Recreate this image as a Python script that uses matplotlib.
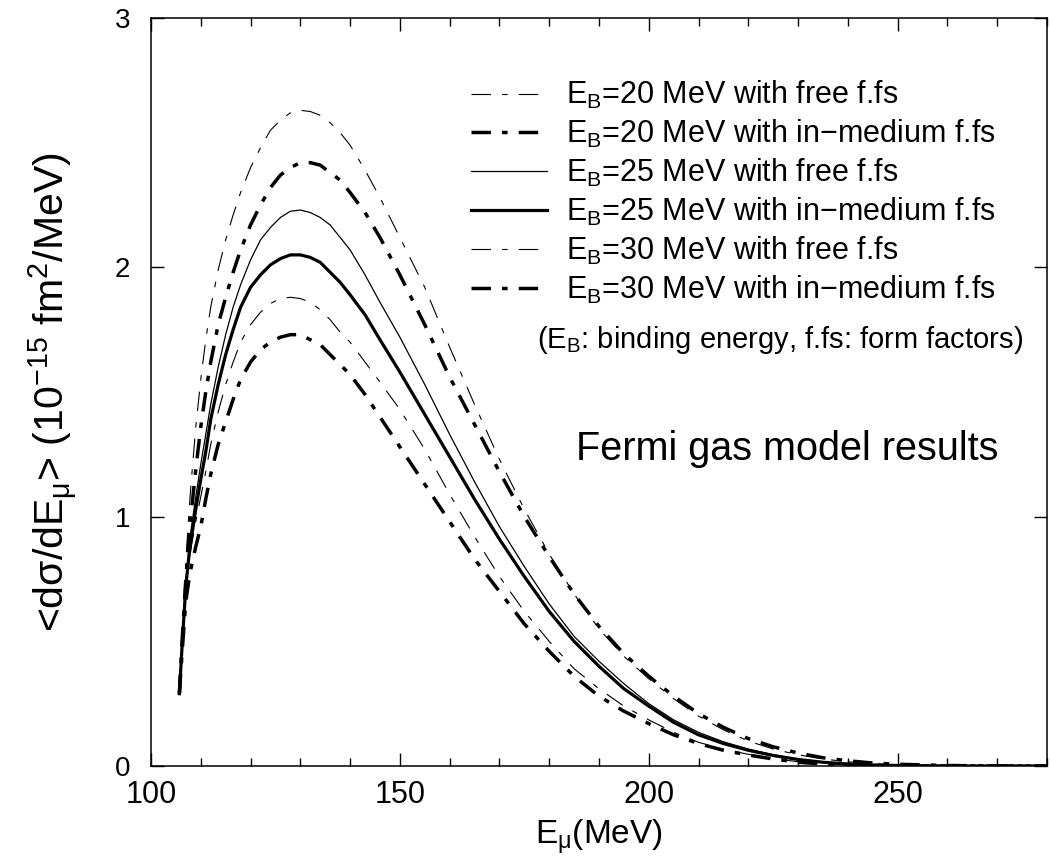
import matplotlib
matplotlib.use("Agg")
import matplotlib.pyplot as plt
from matplotlib.ticker import MultipleLocator

plt.rcParams['font.family'] = ['Liberation Sans', 'DejaVu Sans']
plt.rcParams['mathtext.fontset'] = 'custom'
plt.rcParams['mathtext.rm'] = 'Liberation Sans'
plt.rcParams['mathtext.it'] = 'Liberation Sans:italic'
plt.rcParams['mathtext.bf'] = 'Liberation Sans:bold'
plt.rcParams['lines.scale_dashes'] = False

# muon energy grid (MeV)
e_mu = [105.7, 106.3, 107, 107.5, 108, 109, 110, 111, 112, 113.5, 115, 116.5, 118,
        120, 122, 124, 126, 128, 130, 132, 134, 136, 138, 140, 143, 146, 150, 155,
        160, 165, 170, 175, 180, 185, 190, 195, 200, 205, 210, 215, 220, 225, 230,
        235, 240, 245, 250, 260, 270, 280]

# <dsigma/dE_mu> in 10^-15 fm^2/MeV
eb20_free = [0.29, 0.55, 0.82, 0.98, 1.12, 1.36, 1.55, 1.71, 1.84, 1.99, 2.11, 2.21, 2.30,
             2.40, 2.48, 2.55, 2.59, 2.62, 2.63, 2.625, 2.61, 2.58, 2.54, 2.49, 2.39, 2.28,
             2.12, 1.92, 1.68, 1.45, 1.23, 1.03, 0.85, 0.69, 0.55, 0.44, 0.35, 0.27, 0.20,
             0.145, 0.10, 0.068, 0.045, 0.028, 0.017, 0.010, 0.005, 0.001, 0.0, 0.0]
eb20_med = [0.29, 0.52, 0.75, 0.88, 1.00, 1.19, 1.36, 1.50, 1.62, 1.77, 1.88, 1.98, 2.07,
            2.17, 2.25, 2.32, 2.37, 2.40, 2.42, 2.42, 2.41, 2.38, 2.35, 2.30, 2.22, 2.12,
            1.97, 1.77, 1.56, 1.37, 1.18, 1.00, 0.84, 0.69, 0.56, 0.45, 0.36, 0.28, 0.21,
            0.155, 0.11, 0.077, 0.052, 0.033, 0.021, 0.012, 0.007, 0.002, 0.0, 0.0]
eb25_free = [0.29, 0.51, 0.74, 0.85, 0.94, 1.08, 1.21, 1.33, 1.45, 1.60, 1.73, 1.84, 1.93,
             2.03, 2.11, 2.16, 2.20, 2.225, 2.23, 2.22, 2.20, 2.17, 2.12, 2.07, 1.97, 1.86,
             1.72, 1.53, 1.33, 1.14, 0.96, 0.80, 0.65, 0.52, 0.42, 0.33, 0.25, 0.185, 0.135,
             0.097, 0.068, 0.045, 0.028, 0.016, 0.009, 0.004, 0.002, 0.0, 0.0, 0.0]
eb25_med = [0.29, 0.50, 0.72, 0.82, 0.90, 1.03, 1.15, 1.26, 1.39, 1.53, 1.65, 1.75, 1.84,
            1.92, 1.97, 2.01, 2.035, 2.05, 2.05, 2.04, 2.02, 1.98, 1.94, 1.89, 1.81, 1.71,
            1.58, 1.41, 1.24, 1.07, 0.91, 0.76, 0.62, 0.50, 0.40, 0.31, 0.24, 0.175, 0.125,
            0.09, 0.063, 0.042, 0.026, 0.015, 0.008, 0.004, 0.002, 0.0, 0.0, 0.0]
eb30_free = [0.29, 0.49, 0.70, 0.79, 0.87, 0.98, 1.08, 1.18, 1.29, 1.42, 1.53, 1.62, 1.70,
             1.77, 1.82, 1.855, 1.875, 1.88, 1.875, 1.86, 1.83, 1.79, 1.74, 1.70, 1.62, 1.54,
             1.43, 1.27, 1.09, 0.92, 0.76, 0.62, 0.50, 0.39, 0.31, 0.24, 0.185, 0.135, 0.095,
             0.067, 0.047, 0.030, 0.017, 0.009, 0.005, 0.002, 0.001, 0.0, 0.0, 0.0]
eb30_med = [0.29, 0.47, 0.66, 0.73, 0.79, 0.88, 0.96, 1.07, 1.17, 1.29, 1.38, 1.47, 1.55,
            1.62, 1.67, 1.70, 1.72, 1.73, 1.73, 1.71, 1.69, 1.65, 1.61, 1.57, 1.49, 1.40,
            1.28, 1.13, 0.98, 0.83, 0.70, 0.57, 0.46, 0.36, 0.28, 0.22, 0.17, 0.125, 0.09,
            0.063, 0.044, 0.028, 0.015, 0.008, 0.005, 0.002, 0.001, 0.0, 0.0, 0.0]

labels = ['E$_\\mathrm{B}$=20 MeV with free f.fs',
          'E$_\\mathrm{B}$=20 MeV with in\u2212medium f.fs',
          'E$_\\mathrm{B}$=25 MeV with free f.fs',
          'E$_\\mathrm{B}$=25 MeV with in\u2212medium f.fs',
          'E$_\\mathrm{B}$=30 MeV with free f.fs',
          'E$_\\mathrm{B}$=30 MeV with in\u2212medium f.fs']

dashdot = (0, (14, 8, 4, 8))

fig = plt.figure(figsize=(10.5, 8.67), dpi=100)
ax = fig.add_axes([0.1438, 0.1165, 0.8533, 0.8627])

ax.plot(e_mu, eb20_free, color='k', lw=0.8, linestyle=dashdot, label=labels[0])
ax.plot(e_mu, eb20_med, color='k', lw=2.5, linestyle=dashdot, label=labels[1])
ax.plot(e_mu, eb25_free, color='k', lw=0.9, linestyle='-', label=labels[2])
ax.plot(e_mu, eb25_med, color='k', lw=2.3, linestyle='-', label=labels[3])
ax.plot(e_mu, eb30_free, color='k', lw=0.8, linestyle=dashdot, label=labels[4])
ax.plot(e_mu, eb30_med, color='k', lw=2.5, linestyle=dashdot, label=labels[5])

ax.set_xlim(100, 280)
ax.set_ylim(0, 3)
ax.xaxis.set_major_locator(MultipleLocator(50))
ax.xaxis.set_minor_locator(MultipleLocator(10))
ax.yaxis.set_major_locator(MultipleLocator(1))

for s in ax.spines.values():
    s.set_linewidth(1.1)
ax.tick_params(which='both', direction='in', top=True, right=True, width=1.0)
ax.tick_params(which='major', length=9.5)
ax.tick_params(which='minor', length=5.5)
ax.tick_params(axis='x', labelsize=22, pad=10)
ax.tick_params(axis='y', labelsize=20, pad=15)

ax.set_xlabel('E$_\\mathrm{\u03bc}$(MeV)', fontsize=24, labelpad=6)
ax.set_ylabel('<d\u03c3/dE$_\\mathrm{\u03bc}$> (10$^{\\mathrm{\u221215}}$ fm$^2$/MeV)',
              fontsize=29.5, labelpad=26)

ax.legend(loc='upper left', bbox_to_anchor=(0.357, 0.918), frameon=False,
          fontsize=22, handlelength=2.5, handletextpad=0.6, labelspacing=0.22,
          borderpad=0, borderaxespad=0)

ax.text(0.431, 0.5695, '(E$_\\mathrm{B}$: binding energy, f.fs: form factors)',
        transform=ax.transAxes, fontsize=21, va='center', ha='left')
ax.text(0.474, 0.424, 'Fermi gas model results', transform=ax.transAxes,
        fontsize=28.5, va='center', ha='left')

fig.savefig('out.png', dpi=100)
